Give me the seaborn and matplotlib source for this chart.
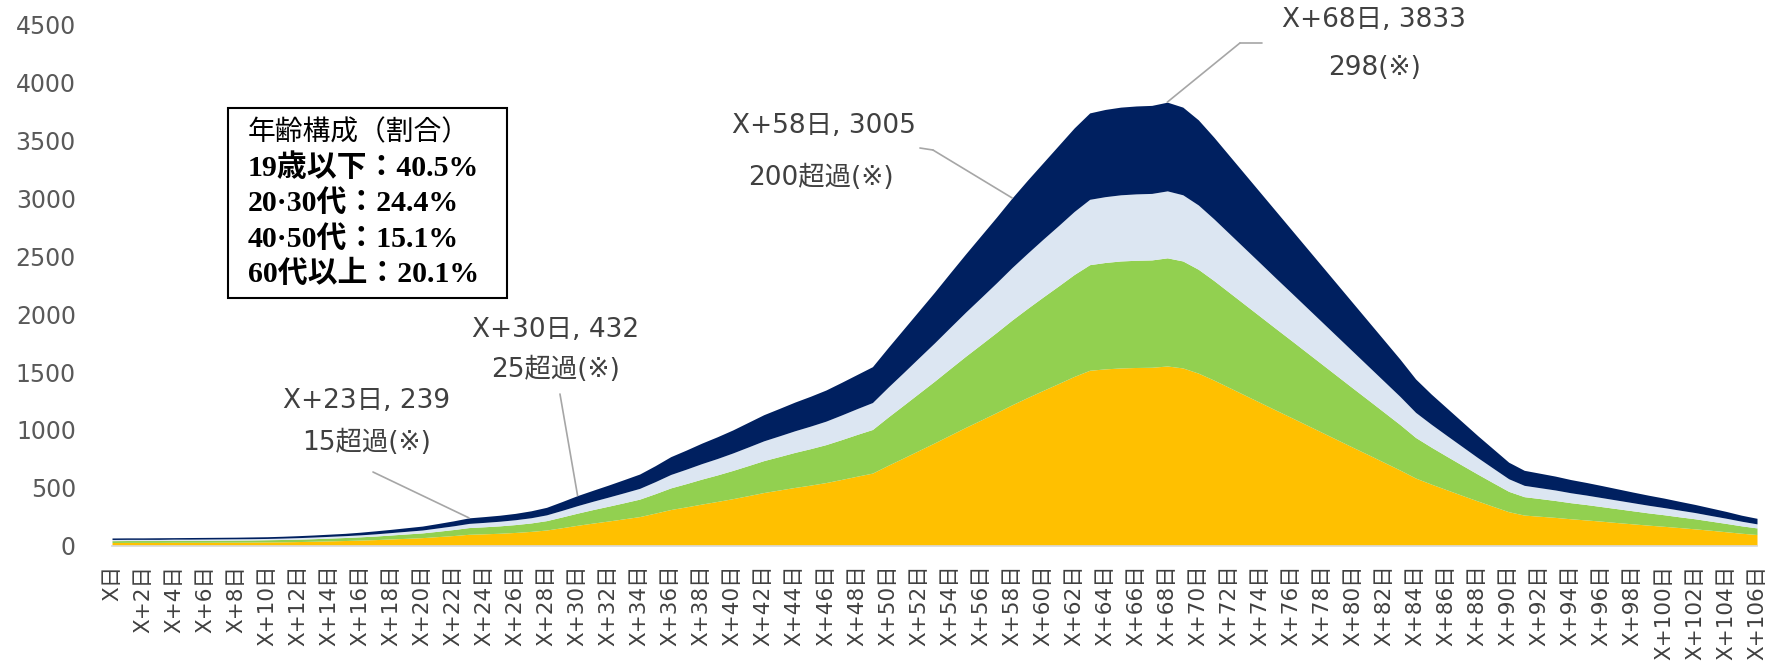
import matplotlib
matplotlib.use("Agg")
import matplotlib.pyplot as plt
import seaborn as sns
from matplotlib.patches import Rectangle

# day index X+0 ... X+106
days = list(range(107))
day_labels = ["X日" if d == 0 else (f"X+{d}日" if d % 2 == 0 else "") for d in days]

# 19歳以下 (orange)
under19 = [26, 27, 27, 27, 28, 28, 28, 29, 29, 30, 31, 32, 34, 37, 40, 43, 47, 51, 57, 62,
           68, 77, 86, 97, 101, 106, 113, 122, 134, 154, 175, 194, 212, 231, 250, 280, 311, 334, 358, 381,
           405, 431, 458, 480, 502, 522, 544, 571, 599, 626, 693, 757, 822, 887, 954, 1021, 1085, 1150, 1217, 1280,
           1341, 1401, 1462, 1515, 1527, 1535, 1539, 1541, 1552, 1535, 1490, 1430, 1365, 1300, 1235, 1170, 1106, 1041, 976, 911,
           846, 782, 717, 652, 583, 531, 482, 433, 385, 338, 292, 263, 253, 243, 231, 221, 210, 198, 187, 176,
           166, 155, 144, 132, 119, 106, 95]
# 20・30代 (green)
age20_30 = [16, 16, 16, 16, 17, 17, 17, 17, 18, 18, 19, 20, 21, 22, 24, 26, 28, 31, 34, 38,
            41, 46, 52, 58, 61, 64, 68, 73, 81, 93, 105, 117, 128, 139, 151, 168, 187, 201, 216, 229,
            244, 260, 276, 289, 303, 315, 328, 344, 361, 377, 417, 456, 495, 534, 575, 615, 654, 693, 733, 771,
            808, 844, 881, 913, 920, 925, 927, 928, 935, 925, 898, 861, 822, 783, 744, 705, 666, 627, 588, 549,
            510, 471, 432, 393, 351, 320, 290, 261, 232, 204, 176, 159, 153, 146, 139, 133, 126, 120, 113, 106,
            100, 93, 87, 79, 72, 64, 57]
# 40・50代 (light blue)
age40_50 = [10, 10, 10, 10, 10, 10, 11, 11, 11, 11, 11, 12, 13, 14, 15, 16, 17, 19, 21, 23,
            25, 29, 32, 36, 38, 40, 42, 45, 50, 57, 65, 72, 79, 86, 93, 104, 116, 125, 134, 142,
            151, 161, 171, 179, 187, 195, 203, 213, 223, 233, 258, 282, 307, 331, 356, 381, 405, 429, 454, 477,
            500, 522, 545, 565, 569, 572, 574, 575, 579, 572, 556, 533, 509, 485, 461, 436, 412, 388, 364, 340,
            316, 291, 267, 243, 217, 198, 180, 162, 143, 126, 109, 98, 94, 91, 86, 82, 78, 74, 70, 66,
            62, 58, 54, 49, 45, 40, 35]
# 60代以上 (navy)
over60 = [13, 13, 13, 14, 13, 14, 14, 14, 14, 15, 15, 16, 17, 18, 19, 20, 23, 26, 28, 31,
          34, 38, 43, 48, 50, 52, 55, 60, 65, 76, 87, 95, 104, 114, 124, 138, 154, 165, 177, 188,
          199, 213, 226, 237, 248, 258, 269, 282, 295, 310, 342, 375, 406, 438, 471, 503, 536, 568, 601, 632,
          661, 693, 722, 747, 754, 758, 760, 761, 767, 758, 736, 706, 674, 642, 610, 579, 546, 514, 482, 450,
          418, 386, 354, 322, 289, 261, 238, 214, 190, 167, 143, 130, 125, 120, 114, 109, 104, 98, 92, 87,
          82, 76, 70, 65, 59, 52, 48]

# callouts: day, total, excess text
callout_days = [23, 30, 58, 68]
callout_totals = [239, 432, 3005, 3833]
callout_notes = ["15超過(※)", "25超過(※)", "200超過(※)", "298(※)"]

box_title = "年齢構成（割合）"
box_lines = ["19歳以下：40.5%", "20·30代：24.4%", "40·50代：15.1%", "60代以上：20.1%"]

colors = ["#FFC000", "#92D050", "#DCE6F2", "#002060"]

sns.set_theme(style="white")
plt.rcParams['font.family'] = ['DejaVu Sans', 'Noto Sans CJK JP']

W, H = 1782, 669
fig = plt.figure(figsize=(W / 100, H / 100), dpi=100)
ax = fig.add_axes([112 / W, 1 - 545.5 / H, (1757 - 112) / W, (545.5 - 25) / H])

ax.stackplot(days, under19, age20_30, age40_50, over60, colors=colors, linewidth=0)

ax.set_xlim(0, 106)
ax.set_ylim(0, 4500)
ax.set_yticks(range(0, 4501, 500))
ax.set_xticks(days)
ax.set_xticklabels(day_labels, rotation=90, fontsize=15.5, color="#404040")
ax.tick_params(axis="y", length=0, pad=26, labelsize=17, labelcolor="#595959")
ax.tick_params(axis="x", length=4.3, width=1, color="#d9d9d9", pad=9.5)
for s in ["top", "right", "left"]:
    ax.spines[s].set_visible(False)
ax.spines["bottom"].set_color("#d9d9d9")
ax.grid(False)


def to_data(px, py):
    return (px - 112) / 15.52, (545.5 - py) / 0.11567


text_kw = dict(fontsize=19, color="#404040", ha="center", va="center")
lead_kw = dict(arrowstyle="-", color="#a6a6a6", lw=1.2, shrinkA=0, shrinkB=0)

# text centres (px) for each callout: line1, line2, leader start
layout = [
    ((367, 401), (367, 443), (373, 472)),
    ((556, 330), (556, 370), (560, 394)),
    ((824, 126), (821, 178), (933, 150)),
    ((1374, 20), (1375, 68), (1240, 43)),
]
for d, tot, note, (p1, p2, p3) in zip(callout_days, callout_totals, callout_notes, layout):
    ax.text(*to_data(*p1), f"X+{d}日, {tot}", **text_kw)
    ax.text(*to_data(*p2), note, **text_kw)
    ax.annotate("", xy=(d, tot), xytext=to_data(*p3), arrowprops=lead_kw)

# short horizontal stubs on the upper leaders
for a, b in [((920, 148), (933, 150)), ((1240, 43), (1262, 43))]:
    xa, ya = to_data(*a)
    xb, yb = to_data(*b)
    ax.plot([xa, xb], [ya, yb], color="#a6a6a6", lw=1.2)

# age composition box
fig.add_artist(Rectangle((228 / W, 1 - 298 / H), (507 - 228) / W, (298 - 108) / H,
                         transform=fig.transFigure, fill=False, edgecolor="black", lw=1.5))
fig.text(248 / W, 1 - 132 / H, box_title, fontsize=20, color="black", va="center",
         family=['Noto Sans CJK JP'])
for i, line in enumerate(box_lines):
    fig.text(248 / W, 1 - (168 + 35.3 * i) / H, line, fontsize=21.5, color="black", va="center",
             fontweight="bold", family=['Liberation Serif', 'Noto Sans CJK JP'])

plt.savefig("out.png", dpi=100)
